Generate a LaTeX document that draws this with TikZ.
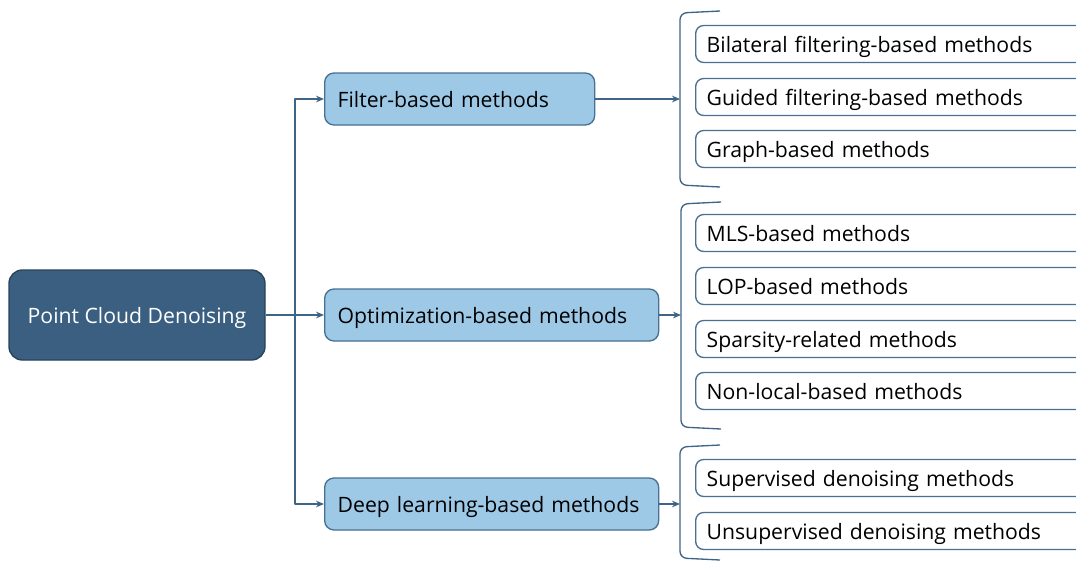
\documentclass[tikz,border=0pt]{standalone}
\usepackage{fontspec}
\setmainfont{Open Sans}
\usetikzlibrary{arrows.meta}
\definecolor{rootblue}{RGB}{58,95,128}
\definecolor{rootedge}{RGB}{40,66,90}
\definecolor{midblue}{RGB}{157,201,231}
\definecolor{midedge}{RGB}{72,112,146}
\definecolor{linkblue}{RGB}{62,100,134}
\begin{document}
\begin{tikzpicture}[x=0.75pt, y=-0.75pt, font=\fontsize{15.9}{19}\selectfont, line join=round, >={Stealth[length=6pt,width=5pt]},
	root/.style={draw=rootedge, line width=1pt, fill=rootblue, text=white, rounded corners=10pt, minimum width=192pt, minimum height=67.5pt, text height=13.5pt, text depth=1.5pt},
	mid/.style={draw=midedge, line width=1pt, fill=midblue, rounded corners=7pt, anchor=west, minimum height=39pt, inner xsep=9.75pt, text height=13.5pt, text depth=1.5pt, align=left},
	leaf/.style={draw=midedge, line width=1pt, fill=white, rounded corners=6pt, anchor=west, minimum height=27.75pt, inner xsep=8.25pt, text height=13.5pt, text depth=1.5pt, text width=276pt, align=left},
	link/.style={draw=linkblue, line width=1pt},
	brk/.style={draw=linkblue, line width=1pt, rounded corners=5pt}]
	\useasboundingbox (0,0) rectangle (1076,561);
	\clip (0,0) rectangle (1076,561);
	% root and first level
	\node[root] (root) at (137,315) {Point Cloud Denoising};
	\node[mid, text width=183pt] (filt) at (324,99) {Filter-based methods};
	\node[mid, text width=231pt] (opt) at (324,315) {Optimization-based methods};
	\node[mid, text width=231pt] (deep) at (324,504) {Deep learning-based methods};
	\coordinate (hub) at (295,315);
	\draw[link,->] (root.east) -- (opt.west);
	\draw[link,->] (hub) |- (filt.west);
	\draw[link,->] (hub) |- (deep.west);
	% brackets
	\coordinate (fb) at (680,99);
	\coordinate (ob) at (681,315);
	\coordinate (db) at (680,504);
	\draw[brk] (720,11) -- (680,13) -- (680,185) -- (720,187);
	\draw[brk] (721,202) -- (681,204) -- (681,427) -- (721,429);
	\draw[brk] (720,445) -- (680,447) -- (680,558) -- (720,560);
	\draw[link,->] (filt.east) -- (fb);
	\draw[link,->] (opt.east) -- (ob);
	\draw[link,->] (deep.east) -- (db);
	% leaves
	\node[leaf] (bil) at (695,44) {Bilateral filtering-based methods};
	\node[leaf] (gui) at (695,97) {Guided filtering-based methods};
	\node[leaf] (gra) at (695,149) {Graph-based methods};
	\node[leaf] (mls) at (695,233) {MLS-based methods};
	\node[leaf] (lop) at (695,286) {LOP-based methods};
	\node[leaf] (spa) at (695,339) {Sparsity-related methods};
	\node[leaf] (nonl) at (695,391) {Non-local-based methods};
	\node[leaf] (sup) at (695,478) {Supervised denoising methods};
	\node[leaf] (uns) at (695,531) {Unsupervised denoising methods};
\end{tikzpicture}
\end{document}
